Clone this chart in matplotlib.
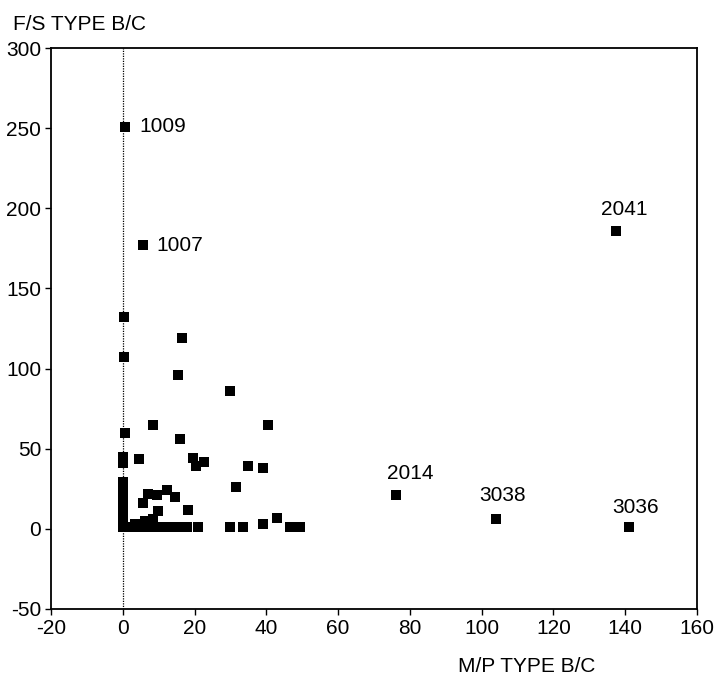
import numpy as np
import matplotlib
matplotlib.use("Agg")
import matplotlib.pyplot as plt

# labelled points (M/P type B/C, F/S type B/C)
lab_names = ["1009", "1007", "2041", "2014", "3038", "3036"]
lab_x = [0.6, 5.5, 137.5, 76, 104, 141]
lab_y = [251, 177, 186, 21, 6, 1]

# the rest of the cloud
mp_bc = [0.3, 0.3, 0.5, 16.5, 15.5, 8.5, 16, 30, 40.5,
         0, 0, 4.5, 19.5, 22.5, 20.5, 35, 39, 31.5,
         0, 0, 0, 0, 0, 0, 0,
         7, 9.5, 12.3, 14.5, 5.5, 18.2, 9.8, 8.5, 6.2,
         2.5, 5, 7.5, 10, 13, 15.5, 18, 21, 30, 33.5, 39, 43, 46.5, 49.5, 3.5]
fs_bc = [132, 107, 60, 119, 96, 65, 56, 86, 65,
         45, 41, 43.5, 44, 42, 39, 39, 38, 26,
         29, 25, 21, 16, 11, 6, 1,
         22, 21, 24, 20, 16, 12, 11, 6, 5,
         1, 1, 1, 1, 1, 1, 1, 1, 1, 1, 3, 7, 1, 1, 3]

xticks = [-20, 0, 20, 40, 60, 80, 100, 120, 140, 160]
yticks = [-50, 0, 50, 100, 150, 200, 250, 300]

plt.rcParams['font.family'] = ['Liberation Sans', 'DejaVu Sans']
plt.rcParams['axes.unicode_minus'] = False
fs = 15

fig = plt.figure(figsize=(7.16, 6.81), dpi=100)
ax = fig.add_axes([51/716, 1-609/681, 646/716, 561/681])

ax.axvline(0, color='black', lw=0.9, ls=(0, (1, 1)), zorder=1)
ax.scatter(mp_bc, fs_bc, marker='s', s=55, color='black', linewidths=0, zorder=3)
ax.scatter(lab_x, lab_y, marker='s', s=55, color='black', linewidths=0, zorder=3)

# text offsets in pixels (dx, dy, ha, va)
offs = {"1009": (14, 0, 'left', 'center'),
        "1007": (14, 0, 'left', 'center'),
        "2041": (8, 12, 'center', 'bottom'),
        "2014": (15, 12, 'center', 'bottom'),
        "3038": (7, 14, 'center', 'bottom'),
        "3036": (7, 10, 'center', 'bottom')}
for n, x, y in zip(lab_names, lab_x, lab_y):
    dx, dy, ha, va = offs[n]
    ax.annotate(n, (x, y), xytext=(dx*0.72, dy*0.72), textcoords='offset points',
                ha=ha, va=va, fontsize=fs)

ax.set_xlim(-20, 160)
ax.set_ylim(-50, 300)
ax.set_xticks(xticks)
ax.set_yticks(yticks)
ax.tick_params(labelsize=fs, length=4, width=1, direction='out', pad=3)
for s in ax.spines.values():
    s.set_linewidth(1.3)

fig.text(13/716, 1-30/681, "F/S TYPE B/C", fontsize=fs, ha='left', va='baseline')
fig.text(527/716, 1-672/681, "M/P TYPE B/C", fontsize=fs, ha='center', va='baseline')

fig.savefig("out.png", dpi=100)
